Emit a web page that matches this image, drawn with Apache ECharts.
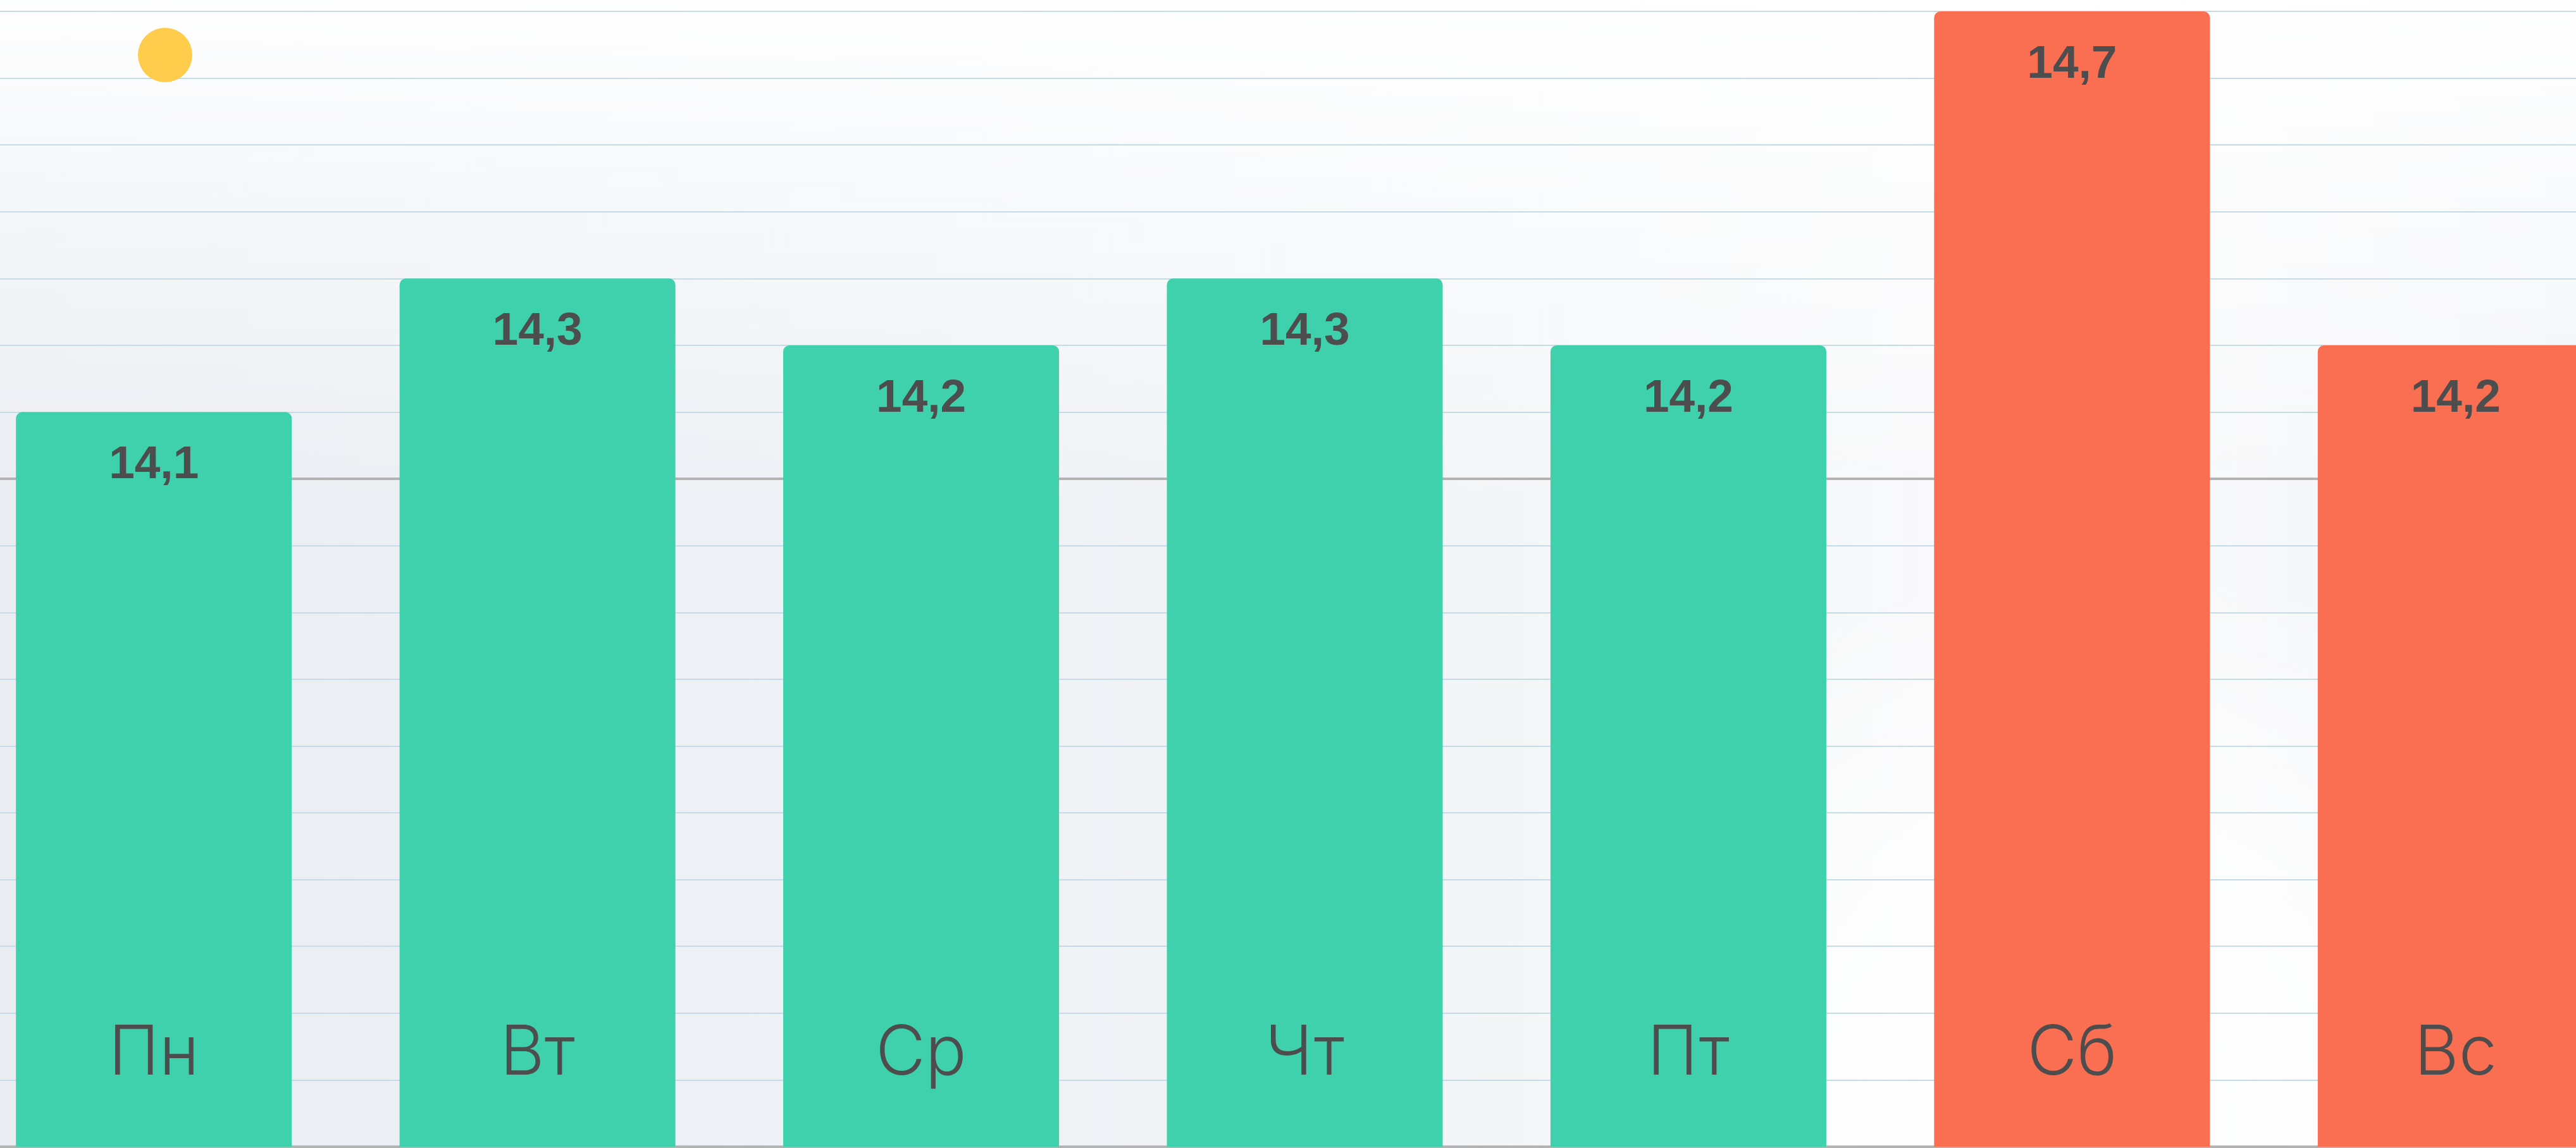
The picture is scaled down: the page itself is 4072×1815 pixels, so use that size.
<!DOCTYPE html>
<html lang="ru">
<head>
<meta charset="utf-8">
<title>Неделя</title>
<script src="https://cdn.jsdelivr.net/npm/echarts@6.0.0/dist/echarts.min.js"></script>
<style>
  html, body { margin: 0; padding: 0; background: #ffffff; }
  #chart { width: 4072px; height: 1815px; }
</style>
</head>
<body>
<div id="chart"></div>
<script>
// Days of the week and the daily values
const days = ['Пн', 'Вт', 'Ср', 'Чт', 'Пт', 'Сб', 'Вс'];
const values = [14.1, 14.3, 14.2, 14.3, 14.2, 14.7, 14.2];
const weekendDays = ['Сб', 'Вс'];

// Value scale
const axisMin = 13;
const axisMax = 14.7;
const gridStep = 0.1;
const baseStep = 1;

const GREEN = '#3FD0AC';
const CORAL = '#FA6E52';
const TEXT = '#4D4D4D';

const chart = echarts.init(document.getElementById('chart'), null, { renderer: 'canvas' });

const fmt = v => v.toFixed(1).replace('.', ',');

const option = {
  animation: false,
  backgroundColor: {
    type: 'linear', x: 0, y: 0, x2: 1, y2: 0,
    colorStops: [
      { offset: 0, color: '#E9ECF1' },
      { offset: 0.35, color: '#EEF1F5' },
      { offset: 0.62, color: '#F4F6F8' },
      { offset: 0.8, color: '#FAFAFB' },
      { offset: 1, color: '#F2F4F7' }
    ]
  },
  graphic: [
    {
      type: 'rect', z: -100, silent: true,
      shape: { x: 0, y: 0, width: 4072, height: 1815 },
      style: {
        fill: {
          type: 'linear', x: 0, y: 0, x2: 0, y2: 1,
          colorStops: [
            { offset: 0, color: 'rgba(255,255,255,0.95)' },
            { offset: 0.15, color: 'rgba(255,255,255,0.6)' },
            { offset: 0.45, color: 'rgba(255,255,255,0)' },
            { offset: 1, color: 'rgba(255,255,255,0)' }
          ]
        }
      }
    },
    {
      type: 'circle', z: -90, silent: true,
      shape: { cx: 3300, cy: 1750, r: 900 },
      style: {
        fill: {
          type: 'radial', x: 0.5, y: 0.5, r: 0.5,
          colorStops: [
            { offset: 0, color: 'rgba(255,255,255,1)' },
            { offset: 0.5, color: 'rgba(255,255,255,0.7)' },
            { offset: 1, color: 'rgba(255,255,255,0)' }
          ]
        }
      }
    },
    {
      type: 'circle', z: 50, silent: true,
      shape: { cx: 261, cy: 87, r: 43 },
      style: { fill: '#FFCD4B' }
    }
  ],
  grid: {
    left: -60, width: 4245, top: 18, bottom: 2,
    containLabel: false,
    outerBoundsMode: 'none'
  },
  xAxis: {
    type: 'category',
    data: days,
    z: 10,
    axisLine: { show: false },
    axisTick: { show: false },
    splitLine: { show: false },
    axisLabel: {
      inside: true,
      margin: 146,
      verticalAlign: 'middle',
      fontFamily: 'Inter',
      fontWeight: 300,
      fontSize: 108,
      color: TEXT
    }
  },
  yAxis: [
    {
      type: 'value',
      min: axisMin,
      max: axisMax,
      interval: gridStep,
      axisLine: { show: false },
      axisTick: { show: false },
      axisLabel: { show: false },
      splitLine: { show: true, showMinLine: true, showMaxLine: true, lineStyle: { color: '#C5DCE7', width: 2 } }
    },
    {
      type: 'value',
      min: axisMin,
      max: axisMax,
      interval: baseStep,
      z: 1,
      axisLine: { show: false },
      axisTick: { show: false },
      axisLabel: { show: false },
      splitLine: { show: true, showMinLine: true, showMaxLine: false, lineStyle: { color: '#B3B3B3', width: 4 } }
    }
  ],
  series: [
    {
      type: 'bar',
      data: values,
      yAxisIndex: 0,
      barWidth: 436,
      z: 2,
      itemStyle: {
        borderRadius: [10, 10, 0, 0],
        color: p => weekendDays.includes(p.name) ? CORAL : GREEN
      },
      label: {
        show: true,
        position: 'insideTop',
        distance: 48,
        formatter: p => fmt(p.value),
        fontFamily: '"Liberation Sans", Arial, sans-serif',
        fontWeight: 'bold',
        fontSize: 73,
        color: TEXT
      }
    }
  ]
};

chart.setOption(option);
</script>
</body>
</html>
